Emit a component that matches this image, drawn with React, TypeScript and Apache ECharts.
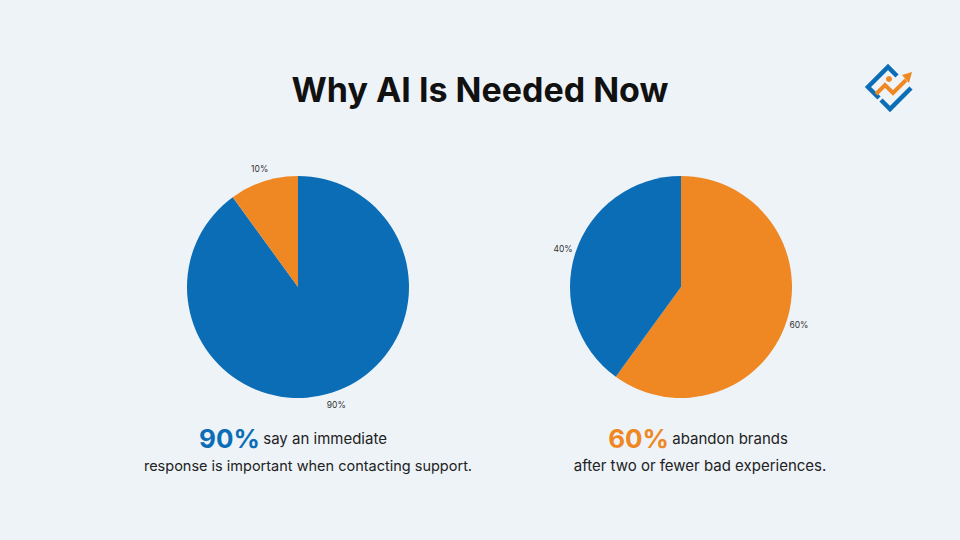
import React, { useEffect, useRef } from "react";
import * as echarts from "echarts";

const leftCategories = ["Immediate response important", "Not important"];
const leftValues = [90, 10];
const rightCategories = ["Abandon after two or fewer bad experiences", "Stay"];
const rightValues = [60, 40];

const BLUE = "#0A6DB6";
const ORANGE = "#EF8722";
const BG = "#EEF3F8";
const FONT = "Inter, 'Open Sans', sans-serif";

function pieSeries(center: number[], names: string[], values: number[], colors: string[]) {
  const data = names.map((n, i) => ({ name: n, value: values[i], itemStyle: { color: colors[i] } }));
  return [
    {
      type: "pie",
      center,
      radius: 111,
      startAngle: 90,
      clockwise: true,
      silent: true,
      label: { show: false },
      labelLine: { show: false },
      emphasis: { disabled: true },
      data,
    },
    {
      type: "pie",
      center,
      radius: [111, 131],
      startAngle: 90,
      clockwise: true,
      silent: true,
      itemStyle: { color: "rgba(0,0,0,0)" },
      label: {
        show: true,
        position: "inside",
        formatter: "{c}%",
        fontSize: 8.5,
        color: "#333",
        fontFamily: FONT,
      },
      labelLine: { show: false },
      emphasis: { disabled: true },
      data: names.map((n, i) => ({ name: n, value: values[i] })),
    },
  ];
}

export default function App() {
  const ref = useRef<HTMLDivElement>(null);
  useEffect(() => {
    document.body.style.margin = "0";
    const chart = echarts.init(ref.current!, null, { renderer: "svg" });
    chart.setOption({
      animation: false,
      backgroundColor: BG,
      title: {
        text: "Why AI Is Needed Now",
        left: "center",
        top: 67,
        textStyle: { fontSize: 34, fontWeight: 700, color: "#111", fontFamily: FONT },
      },
      series: [
        ...pieSeries([298, 287], leftCategories, leftValues, [BLUE, ORANGE]),
        ...pieSeries([681, 287], rightCategories, rightValues, [ORANGE, BLUE]),
      ],
      graphic: [
        {
          type: "text",
          x: 293,
          y: 438,
          style: {
            text: "{p|90%} {t|say an immediate}",
            textAlign: "center",
            textVerticalAlign: "middle",
            rich: {
              p: { fontSize: 26, fontWeight: 700, fill: BLUE, fontFamily: FONT },
              t: { fontSize: 15, fill: "#222", fontFamily: FONT },
            },
          },
        },
        {
          type: "text",
          x: 308,
          y: 465,
          style: {
            text: "response is important when contacting support.",
            textAlign: "center",
            textVerticalAlign: "middle",
            fontSize: 14.5,
            fill: "#222",
            fontFamily: FONT,
          },
        },
        {
          type: "text",
          x: 698,
          y: 438,
          style: {
            text: "{p|60%} {t|abandon brands}",
            textAlign: "center",
            textVerticalAlign: "middle",
            rich: {
              p: { fontSize: 26, fontWeight: 700, fill: ORANGE, fontFamily: FONT },
              t: { fontSize: 15, fill: "#222", fontFamily: FONT },
            },
          },
        },
        {
          type: "text",
          x: 700,
          y: 465,
          style: {
            text: "after two or fewer bad experiences.",
            textAlign: "center",
            textVerticalAlign: "middle",
            fontSize: 15,
            fill: "#222",
            fontFamily: FONT,
          },
        },
        // logo
        {
          type: "polyline",
          shape: { points: [[879, 98], [868, 87], [888, 67], [897, 76]] },
          style: { stroke: BLUE, lineWidth: 4.5, fill: null, lineJoin: "miter" },
        },
        {
          type: "polyline",
          shape: { points: [[876, 94], [885, 85], [893, 93], [906, 80]] },
          style: { stroke: ORANGE, lineWidth: 4, fill: null, lineJoin: "miter" },
        },
        {
          type: "polygon",
          shape: { points: [[902, 75], [912, 72], [909, 83]] },
          style: { fill: ORANGE },
        },
        {
          type: "circle",
          shape: { cx: 889, cy: 79, r: 3 },
          style: { fill: ORANGE },
        },
        {
          type: "polyline",
          shape: { points: [[881, 100], [890, 109], [911, 88]] },
          style: { stroke: BLUE, lineWidth: 4.5, fill: null, lineJoin: "miter" },
        },
      ],
    });
    return () => chart.dispose();
  }, []);
  return <div ref={ref} style={{ width: 960, height: 540 }} />;
}
